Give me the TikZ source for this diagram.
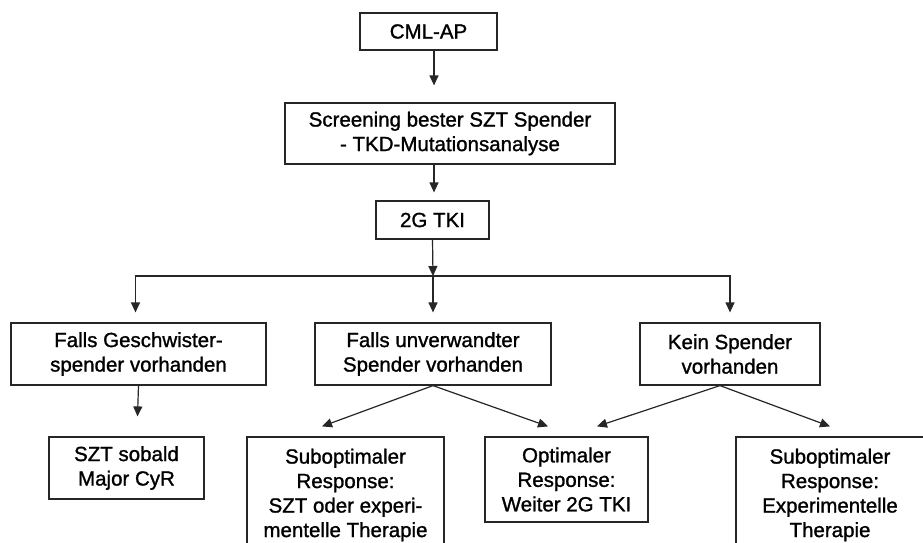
\documentclass[tikz,border=0pt]{standalone}
\usepackage{fontspec}
\setmainfont{Liberation Sans}
\newfontfamily\heavyfont{Liberation Sans}[FakeBold=1.2]
\usetikzlibrary{arrows.meta,calc}
\begin{document}
\begin{tikzpicture}[x=1pt,y=-1pt,
  box/.style={draw=black!85,line width=1.2pt,align=center,inner sep=0pt,
    font=\heavyfont\fontsize{20.5}{24.5}\selectfont},
  arr/.style={draw=black!85,line width=1.2pt,-{Triangle[length=10pt,width=9pt]}},
  ln/.style={draw=black!85,line width=1.2pt}]
\useasboundingbox (0,0) rectangle (923,543);
\clip (0,0) rectangle (923,543);
\fill[white] (0,0) rectangle (923,543);
\node[box,minimum width=137pt,minimum height=37pt] (cml) at (428.5,31.5) {CML-AP};
\node[box,minimum width=330pt,minimum height=61pt] (scr) at (450,133.5) {Screening bester SZT Spender\\- TKD-Mutationsanalyse};
\node[box,minimum width=113pt,minimum height=38pt] (tki) at (432.5,220) {2G TKI};
\node[box,minimum width=255pt,minimum height=62pt] (fg) at (138.5,354) {Falls Geschwister-\\spender vorhanden};
\node[box,minimum width=236pt,minimum height=62pt] (fu) at (433,354) {Falls unverwandter\\Spender vorhanden};
\node[box,minimum width=180pt,minimum height=62pt] (ks) at (730,354) {Kein Spender\\vorhanden};
\node[box,minimum width=155pt,minimum height=62pt] (szt) at (126.5,468) {SZT sobald\\Major CyR};
\node[box,minimum width=197pt,minimum height=116pt] (s1) at (345.5,495) {Suboptimaler\\Response:\\SZT oder experi-\\mentelle Therapie};
\node[box,minimum width=163pt,minimum height=85pt] (opt) at (566.5,479.5) {Optimaler\\Response:\\Weiter 2G TKI};
\node[box,minimum width=188pt,minimum height=116pt] (s2) at (830,495) {Suboptimaler\\Response:\\Experimentelle\\Therapie};
\coordinate (ax) at (434,0);
\coordinate (j) at (433,276);
\draw[arr] (cml.south -| ax) -- ($(scr.north -| ax)+(0pt,17pt)$);
\draw[arr] (scr.south -| ax) -- ($(tki.north -| ax)+(0pt,8pt)$);
\draw[arr] (tki.south) -- (j);
\draw[arr] (j) -- ($(fu.north)+(0pt,10pt)$);
\draw[arr] (j) -| ($(fg.north)+(-3pt,10pt)$);
\draw[arr] (j) -| ($(ks.north)+(0pt,10pt)$);
\draw[arr] (fg.south) -- ($(szt.north)+(11pt,20pt)$);
\draw[arr] (fu.south) -- ($(s1.north)+(-23.5pt,10pt)$);
\draw[arr] (fu.south) -- ($(opt.north)+(-18.5pt,10pt)$);
\draw[arr] ($(ks.south)+(-10pt,0pt)$) -- ($(opt.north)+(30.5pt,10pt)$);
\draw[arr] ($(ks.south)+(-10pt,0pt)$) -- ($(s2.north)+(0pt,10pt)$);
\end{tikzpicture}
\end{document}
